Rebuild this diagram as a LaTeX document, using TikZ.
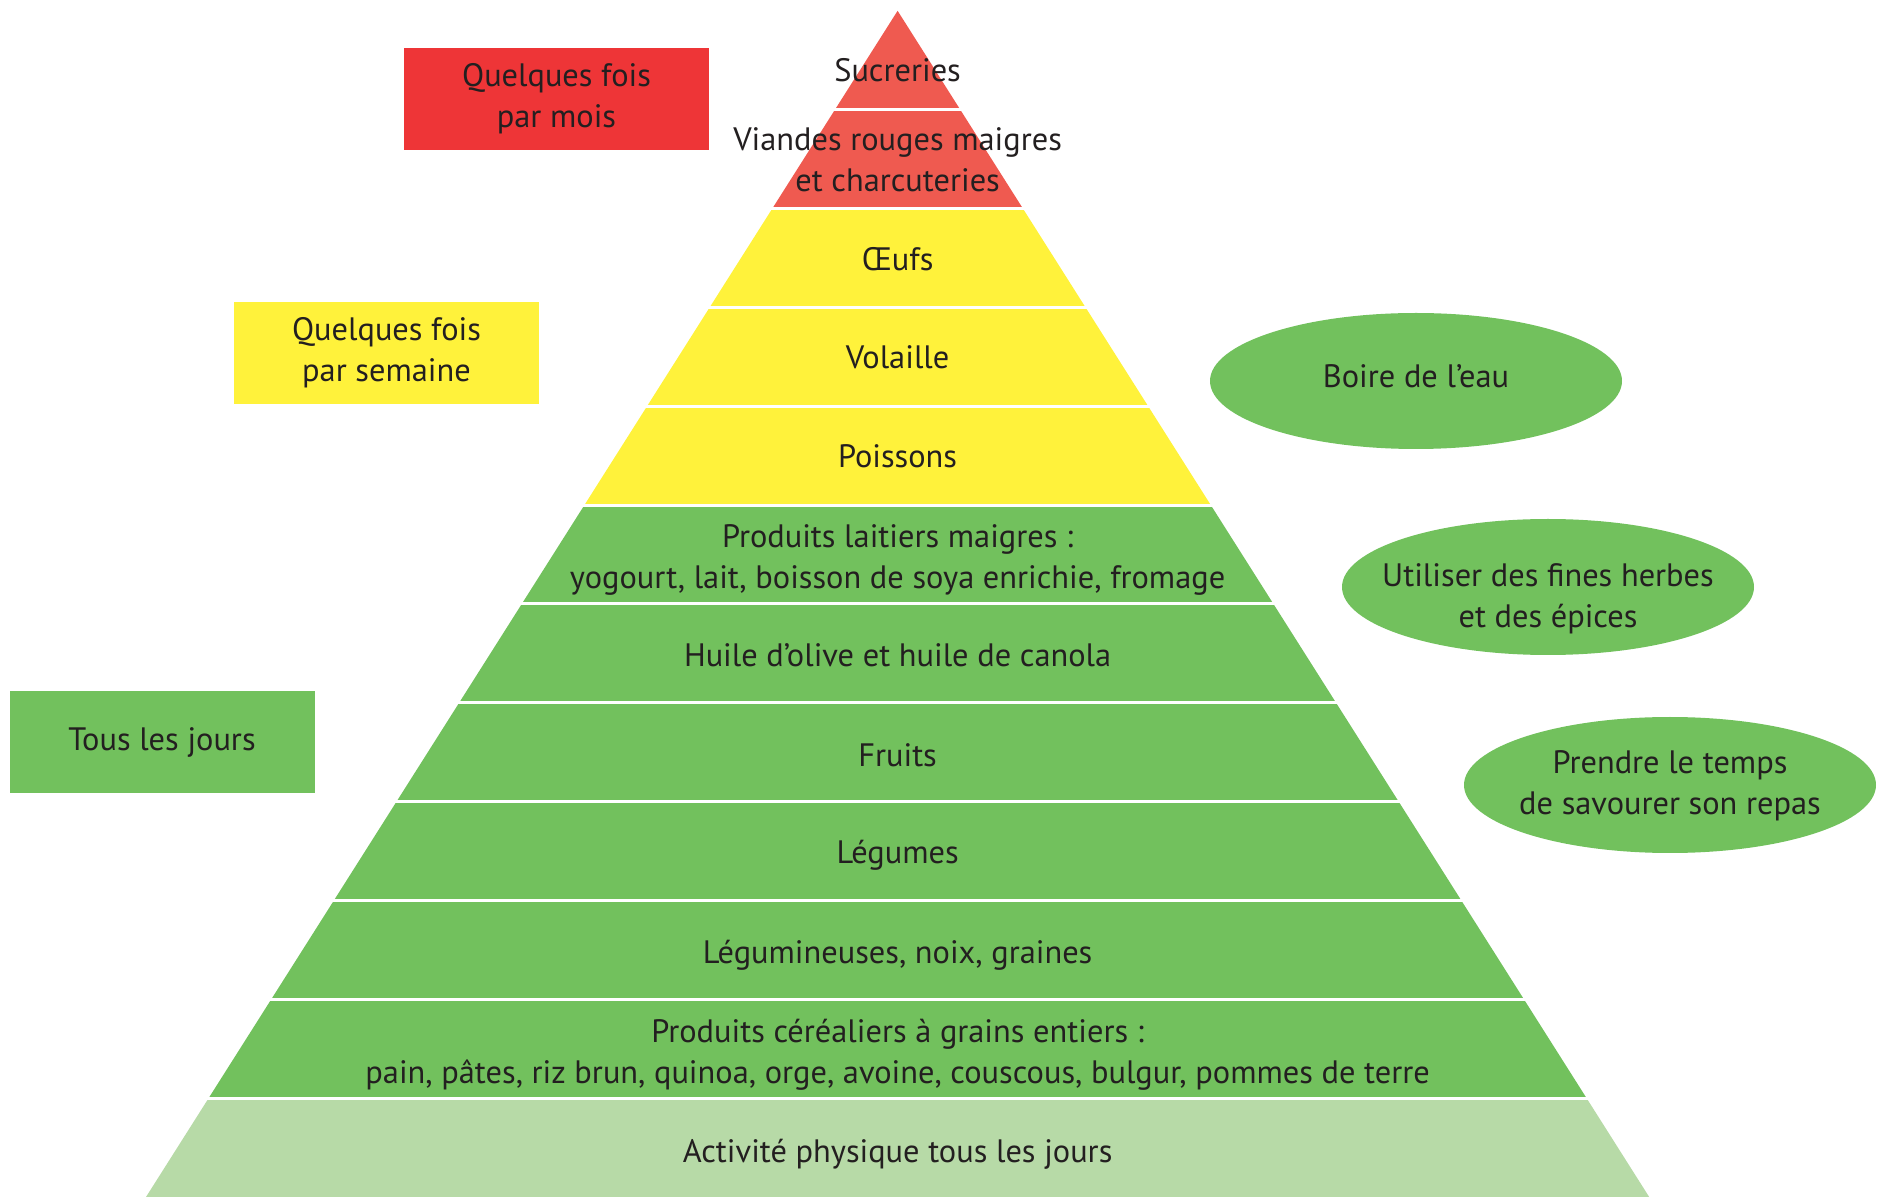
\documentclass[tikz,border=0pt]{standalone}
\usepackage{fontspec}
\setmainfont{PT Sans}
\usepackage{tikz}
\usetikzlibrary{calc,shapes.geometric,positioning}
\definecolor{rouge}{HTML}{EF5A50}
\definecolor{rougevif}{HTML}{EE3537}
\definecolor{jaune}{HTML}{FFF23B}
\definecolor{vert}{HTML}{72C15D}
\definecolor{vertpale}{HTML}{B7DAA7}
\definecolor{texte}{HTML}{231F20}
% one band of the pyramid: #1 = rank from the top, #2 = colour
\newcommand{\tranche}[2]{%
  \fill[#2] ($(A)!#1/12-1/12!(BL)$) -- ($(A)!#1/12!(BL)$)
    -- ($(A)!#1/12!(BR)$) -- ($(A)!#1/12-1/12!(BR)$) -- cycle;}

\begin{document}
\begin{tikzpicture}[x=0.5pt,y=-0.5pt]

\tikzset{palier/.style={
  text=texte,
  align=center,
  inner sep=0pt,
  yshift=-2pt,
  font=\fontsize{16.2}{20.5}\selectfont
  }}
\tikzset{frequence/.style={
  rectangle,
  inner sep=0pt,
  minimum width=152.5pt,
  minimum height=51pt,
  align=center,
  text=texte,
  font=\fontsize{16.2}{20.5}\selectfont
  }}
\tikzset{conseil/.style={
  ellipse,
  inner sep=0pt,
  minimum width=206pt,
  minimum height=68pt,
  fill=vert
  }}

\useasboundingbox (0,0) rectangle (1881,1197);

\coordinate (A) at (897.6,10.8);
\coordinate (BL) at (146,1197);
\coordinate (BR) at (1649.2,1197);

\tranche{1}{rouge}
\tranche{2}{rouge}
\tranche{3}{jaune}
\tranche{4}{jaune}
\tranche{5}{jaune}
\tranche{6}{vert}
\tranche{7}{vert}
\tranche{8}{vert}
\tranche{9}{vert}
\tranche{10}{vert}
\tranche{11}{vert}
\tranche{12}{vertpale}

% white gaps between the bands
\foreach \k in {1,...,11}
  \draw[white, line width=1.5pt, shorten <=-3pt, shorten >=-3pt]
    ($(A)!\k/12!(BL)$) -- ($(A)!\k/12!(BR)$);

\node[palier] (sucre) at (897.6,66) {Sucreries};
\node[palier] (viande) at (897.6,155.5) {Viandes rouges maigres\\et charcuteries};
\node[palier] (oeuf) at (897.6,255) {Œufs};
\node[palier] (volaille) at (897.6,353) {Volaille};
\node[palier] (poisson) at (897.6,452) {Poissons};
\node[palier] (laitier) at (897.6,555.5) {Produits laitiers maigres :\\yogourt, lait, boisson de soya enrichie, fromage};
\node[palier] (huile) at (897.6,651.5) {Huile d’olive et huile de canola};
\node[palier] (fruit) at (897.6,751) {Fruits};
\node[palier] (legume) at (897.6,851) {Légumes};
\node[palier] (noix) at (897.6,951) {Légumineuses, noix, graines};
\node[palier] (cereale) at (897.6,1051) {Produits céréaliers à grains entiers :\\pain, pâtes, riz brun, quinoa, orge, avoine, couscous, bulgur, pommes de terre};
\node[palier] (activite) at (897.6,1150) {Activité physique tous les jours};

\node[frequence, fill=rougevif] (mois) at (556.5,99) {Quelques fois\\par mois};
\node[frequence, fill=jaune] (semaine) at (386.5,353) {Quelques fois\\par semaine};
\node[frequence, fill=vert] (jour) at (162,742) {Tous les jours};

\node[conseil] (eau) at (1416,381) {};
\node[conseil] (herbe) at (1548,587) {};
\node[conseil] (repas) at (1670,785) {};
\node[palier] (eautxt) at (1416,372) {Boire de l’eau};
\node[palier] (herbetxt) at (1548,595) {Utiliser des fines herbes\\et des épices};
\node[palier] (repastxt) at (1670,782) {Prendre le temps\\de savourer son repas};
\end{tikzpicture}
\end{document}
